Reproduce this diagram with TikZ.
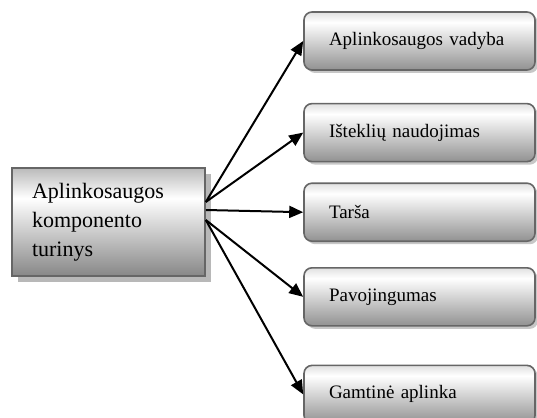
\documentclass[tikz,border=0pt]{standalone}
\usepackage{fontspec}
\setmainfont{Liberation Serif}
\usepackage{tikz}
\usetikzlibrary{arrows.meta,positioning,shadows}
\pgfdeclareverticalshading{leftgrad}{100bp}{color(0bp)=(black!47); color(25bp)=(black!47); color(61bp)=(white); color(75bp)=(black!27); color(100bp)=(black!27)}
\pgfdeclareverticalshading{rightgrad}{100bp}{color(0bp)=(black!43); color(25bp)=(black!43); color(66bp)=(white); color(75bp)=(black!12); color(100bp)=(black!12)}

\begin{document}
\begin{tikzpicture}[x=1pt,y=-1pt,font=\fontsize{19}{23}\selectfont,
  mainbox/.style={draw=black!60,line width=1.6pt,shading=leftgrad,minimum width=193pt,minimum height=108pt,text width=153pt,inner xsep=20pt,align=left,font=\fontsize{22}{29}\selectfont,drop shadow={shadow xshift=6pt,shadow yshift=-6pt,fill=black!28,opacity=1}},
  sidebox/.style={draw=black!60,line width=1.6pt,rounded corners=8pt,shading=rightgrad,minimum width=231pt,minimum height=58pt,text width=181pt,inner xsep=25pt,align=left,drop shadow={shadow xshift=3pt,shadow yshift=-3pt,fill=black!22,opacity=1}},
  link/.style={-{Triangle[length=14pt,width=12pt]},line width=2pt}]
  \useasboundingbox (0,0) rectangle (537,417);
  \node[mainbox] (topic) at (108.5,222) {Aplinkosaugos\\komponento\\turinys};
  \node[sidebox] (mgmt) at (419.5,41) {Aplinkosaugos vadyba};
  \node[sidebox,below=32pt of mgmt] (use) {Išteklių naudojimas};
  \node[sidebox,below=20pt of use] (poll) {Tarša};
  \node[sidebox,below=25pt of poll] (haz) {Pavojingumas};
  \node[sidebox,below=38pt of haz] (env) {Gamtinė aplinka};
  \draw[link] ([yshift=20pt]topic.east) -- (mgmt.west);
  \draw[link] ([yshift=20pt]topic.east) -- (use.west);
  \draw[link] ([yshift=12pt]topic.east) -- (poll.west);
  \draw[link] ([yshift=2pt]topic.east) -- (haz.west);
  \draw[link] ([yshift=2pt]topic.east) -- (env.west);
\end{tikzpicture}
\end{document}
